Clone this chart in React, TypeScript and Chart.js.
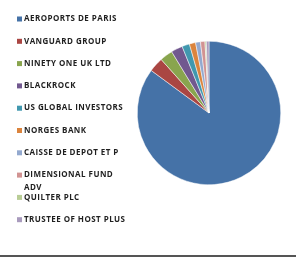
import React, { useEffect, useRef } from "react";
import { Chart, registerables } from "chart.js";

Chart.register(...registerables);

const holders: (string | string[])[] = [
  "AEROPORTS DE PARIS",
  "VANGUARD GROUP",
  "NINETY ONE UK LTD",
  "BLACKROCK",
  "US GLOBAL INVESTORS",
  "NORGES BANK",
  "CAISSE DE DEPOT ET P",
  ["DIMENSIONAL FUND", "ADV"],
  "QUILTER PLC",
  "TRUSTEE OF HOST PLUS",
];
const shares = [85.1, 3.3, 2.9, 2.6, 1.7, 1.4, 1.1, 1.0, 0.3, 0.6];
const colors = [
  "#4572A7",
  "#AA4643",
  "#89A54E",
  "#71588F",
  "#4198AF",
  "#DB843D",
  "#93A9CF",
  "#D19392",
  "#B9CD96",
  "#A99BBD",
];

const sideLegend = {
  id: "sideLegend",
  afterDraw(chart: any) {
    const ctx = chart.ctx as CanvasRenderingContext2D;
    const labels = chart.data.labels as (string | string[])[];
    const bg = chart.data.datasets[0].backgroundColor as string[];
    ctx.save();
    ctx.font = "bold 8px 'Open Sans', sans-serif";
    (ctx as any).letterSpacing = "0.45px";
    ctx.textBaseline = "middle";
    const top = 19;
    const step = 22.3;
    const lineH = 12.3;
    labels.forEach((lab, i) => {
      const y = top + i * step;
      ctx.fillStyle = bg[i];
      ctx.fillRect(17, y - 2.5, 5, 5);
      ctx.fillStyle = "#1f1f1f";
      const lines = Array.isArray(lab) ? lab : [lab];
      lines.forEach((t, j) => ctx.fillText(t, 24, y + j * lineH));
    });
    ctx.restore();
  },
};

export default function App() {
  const ref = useRef<HTMLCanvasElement>(null);
  useEffect(() => {
    document.body.style.margin = "0";
    const chart = new Chart(ref.current!, {
      type: "pie",
      data: {
        labels: holders as any,
        datasets: [
          {
            data: shares,
            backgroundColor: colors,
            borderColor: "#ffffff",
            borderWidth: 0.5,
          },
        ],
      },
      options: {
        animation: false,
        responsive: false,
        layout: { padding: { left: 137, right: 15, top: 41, bottom: 70 } },
        plugins: { legend: { display: false }, tooltip: { enabled: false } },
      },
      plugins: [sideLegend],
    });
    return () => chart.destroy();
  }, []);
  return (
    <div style={{ width: 296, height: 257, background: "#fff" }}>
      <canvas ref={ref} width={296} height={255} style={{ display: "block" }} />
      <div style={{ height: 2, background: "#555" }} />
    </div>
  );
}
